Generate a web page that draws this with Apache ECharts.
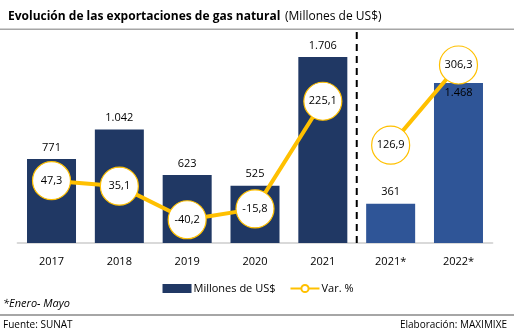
<!DOCTYPE html>
<html>
<head>
<meta charset="utf-8">
<script src="https://cdn.jsdelivr.net/npm/echarts@6/dist/echarts.min.js"></script>
<style>
  html, body { margin: 0; padding: 0; background: #fff; }
  #chart { width: 516px; height: 336px; }
</style>
</head>
<body>
<div id="chart"></div>
<script>
// 年份分类
const years = ['2017', '2018', '2019', '2020', '2021', '2021*', '2022*']
// 出口额（百万美元）
const exportValues = [771, 1042, 623, 525, 1706, 361, 1468]
// 同比变化 %，2021 与 2021* 之间断开
const varPct = [47.3, 35.1, -40.2, -15.8, 225.1, null, 126.9, 306.3]
const varIndex = [0, 1, 2, 3, 4, null, 5, 6]
// 虚线分隔位置（2021 与 2021* 之间）
const dividerPos = 4.5

const navy = '#203864'
const blue = '#2f5597'
const gold = '#ffc000'
const font = '"Open Sans", "Noto Sans", sans-serif'

const fmtThousands = v => String(v).replace(/\B(?=(\d{3})+(?!\d))/g, '.')
const fmtComma = v => v.toFixed(1).replace('.', ',')

const chart = echarts.init(document.getElementById('chart'))

const barMax = 1972
const lineMin = -92.2
const lineMax = 389.1

// 折线数据：空位处断开
const lineData = []
varPct.forEach((v, i) => {
  if (v === null) {
    lineData.push([dividerPos, null])
  } else {
    lineData.push([varIndex[i], v])
  }
})

const option = {
  animation: false,
  textStyle: { fontFamily: font },
  title: {
    left: 3,
    top: 3,
    text: '{b|Evolución de las exportaciones de gas natural} {n|(Millones de US$)}',
    textStyle: {
      fontWeight: 'normal',
      rich: {
        b: { fontFamily: font, fontSize: 12, fontWeight: 'bold', color: '#000' },
        n: { fontFamily: font, fontSize: 12, fontWeight: 'normal', color: '#000' }
      }
    }
  },
  legend: {
    bottom: 37,
    left: 'center',
    itemWidth: 29,
    itemHeight: 9,
    itemGap: 14,
    textStyle: { fontFamily: font, fontSize: 11, color: '#000', padding: [0, 0, 0, -3] },
    data: [
      { name: 'Millones de US$', icon: 'rect' },
      { name: 'Var. %' }
    ]
  },
  grid: { left: 17.6, right: 23.6, top: 28, bottom: 93 },
  xAxis: [
    {
      type: 'category',
      data: years,
      axisTick: { show: false },
      axisLine: { lineStyle: { color: '#d9d9d9', width: 2 } },
      axisLabel: { color: '#000', fontSize: 11, fontFamily: font, margin: 13 }
    },
    { type: 'value', min: -0.5, max: 6.5, show: false }
  ],
  yAxis: [
    { type: 'value', min: 0, max: barMax, show: false, splitLine: { show: false } },
    { type: 'value', min: lineMin, max: lineMax, show: false, splitLine: { show: false } }
  ],
  series: [
    {
      name: 'Millones de US$',
      type: 'bar',
      barWidth: 49,
      itemStyle: { color: navy },
      data: exportValues.map((v, i) => {
        const d = { value: v }
        if (i >= 5) d.itemStyle = { color: blue }
        if (i === 6) d.label = { position: 'insideTop', distance: 4 }
        return d
      }),
      label: {
        show: true,
        position: 'top',
        distance: 6,
        color: '#000',
        fontSize: 11,
        fontFamily: font,
        formatter: p => fmtThousands(p.value)
      },
      z: 2
    },
    {
      name: 'Var. %',
      type: 'line',
      xAxisIndex: 1,
      yAxisIndex: 1,
      data: lineData,
      connectNulls: false,
      lineStyle: { color: gold, width: 4 },
      itemStyle: { color: '#fff', borderColor: gold, borderWidth: 1.2 },
      symbol: 'circle',
      symbolSize: 38,
      showAllSymbol: true,
      label: {
        show: true,
        position: 'inside',
        color: '#000',
        fontSize: 11,
        fontFamily: font,
        formatter: p => (p.value[1] == null ? '' : fmtComma(p.value[1]))
      },
      z: 5
    },
    {
      name: 'divider',
      type: 'line',
      xAxisIndex: 1,
      yAxisIndex: 0,
      data: [[dividerPos, 0], [dividerPos, barMax]],
      symbol: 'none',
      silent: true,
      lineStyle: { color: '#000', width: 2, type: [7, 5] },
      z: 3
    }
  ],
  graphic: [
    { type: 'rect', shape: { x: 0, y: 28.5, width: 514, height: 1.5 }, style: { fill: '#a6a6a6' } },
    { type: 'rect', shape: { x: 0, y: 314, width: 514, height: 2 }, style: { fill: '#a6a6a6' } },
    {
      type: 'text', left: 3, top: 298,
      style: { text: '*Enero- Mayo', fontFamily: font, fontSize: 11, fontStyle: 'italic', fill: '#000' }
    },
    {
      type: 'text', left: 3, top: 320,
      style: { text: 'Fuente: SUNAT', fontFamily: font, fontSize: 10, fill: '#000' }
    },
    {
      type: 'text', right: 9, top: 320,
      style: { text: 'Elaboración: MAXIMIXE', fontFamily: font, fontSize: 10, fill: '#000' }
    }
  ]
}

chart.setOption(option)
</script>
</body>
</html>
